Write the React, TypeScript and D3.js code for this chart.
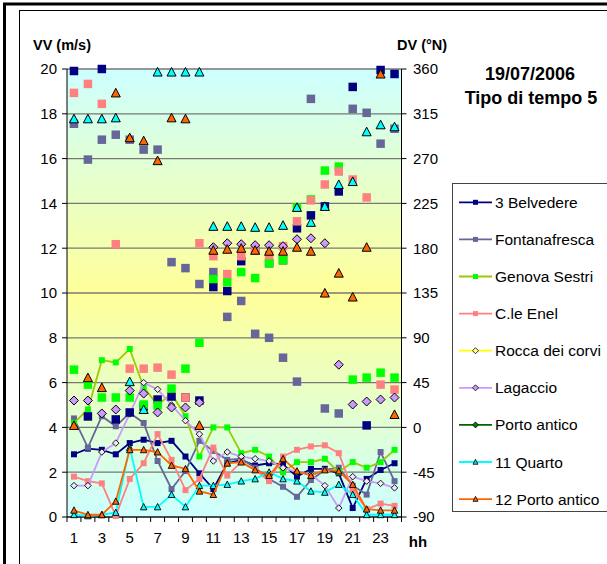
import React from 'react';
import * as d3 from 'd3';

// hours of the day and tick values
const hours = [1, 2, 3, 4, 5, 6, 7, 8, 9, 10, 11, 12, 13, 14, 15, 16, 17, 18, 19, 20, 21, 22, 23, 24];
const hourLabels = [1, 3, 5, 7, 9, 11, 13, 15, 17, 19, 21, 23];
const vvTicks = [0, 2, 4, 6, 8, 10, 12, 14, 16, 18, 20];
const dvTicks = [-90, -45, 0, 45, 90, 135, 180, 225, 270, 315, 360];

const stations = ['3 Belvedere', 'Fontanafresca', 'Genova Sestri', 'C.le Enel', 'Rocca dei corvi', 'Lagaccio', 'Porto antico', '11 Quarto', '12 Porto antico'];

// wind speed (m/s), left axis
const vvBelvedere = [2.8, 3.05, 3.0, 2.8, 3.3, 3.45, 3.3, 3.4, 2.7, 1.95, 1.25, 2.4, 2.55, 2.3, 2.4, 2.35, 1.8, 2.15, 2.15, 1.95, 0.4, 1.7, 2.1, 2.4];
const vvFontanafresca = [4.4, 3.1, 4.5, 4.05, 4.65, 4.2, 2.5, 1.25, 2.05, 3.4, 2.95, 2.55, 2.6, 2.2, 1.7, 1.35, 0.9, 1.65, 2.1, 2.2, 1.4, 1.0, 2.9, 1.6];
const vvGenova = [4.2, 4.8, 7.0, 6.9, 7.5, 5.8, 5.0, 5.5, 4.5, 2.7, 4.0, 4.0, 2.85, 3.0, 2.7, 2.0, 2.45, 2.45, 2.6, 2.0, 2.45, 2.2, 2.45, 3.0];
const vvEnel = [1.8, 1.6, 1.5, 0.05, 1.7, 2.4, 3.7, 2.55, 1.2, 1.7, 3.1, 1.85, 2.45, 2.1, 1.6, 2.7, 3.0, 3.15, 3.2, 2.85, 1.2, 0.35, 0.6, 0.5];
const vvRocca: number[] = [];
const vvLagaccio = [1.4, 1.4, 2.9, 3.3, 4.6, 6.0, 5.7, 5.0, 4.3, 3.7, 2.5, 2.9, 2.7, 2.6, 2.5, 2.2, 2.0, 1.9, 1.4, 0.4, 1.8, 1.6, 1.5, 1.3];
const vvPorto: number[] = [];
const vvQuarto = [0.1, 0.05, 0.1, 0.2, 3.1, 0.45, 0.45, 1.0, 0.45, 1.4, 1.4, 1.45, 1.6, 1.7, 2.0, 1.7, 1.6, 1.15, 1.1, 1.45, 1.0, 0.1, 0.1, 0.1];
const vvPorto12 = [0.3, 0.1, 0.1, 0.7, 3.0, 3.0, 2.9, 2.3, 2.15, 1.15, 1.0, 2.4, 2.45, 2.1, 1.85, 2.6, 2.05, 1.85, 2.1, 2.05, 1.45, 0.35, 0.3, 0.3];

// wind direction (deg N), right axis
const dvBelvedere = [358, 11, 360, 8, 15, 21, 28, 31, 30, 27, 141, 137, 167, 178, 165, 168, 200, 213, 222, 237, 342, 2, 359, 355];
const dvFontanafresca = [305, 269, 289, 294, 289, 279, 279, 166, 160, 144, 156, 111, 127, 94, 90, 70, 46, 330, 19, 14, 320, 316, 285, 300];
const dvGenova = [58, 43, 30, 30, 30, 23, 22, 39, 59, 85, 149, 146, 156, 150, 165, 168, 221, 229, 258, 262, 48, 50, 55, 50];
const dvEnel = [336, 345, 325, 184, 59, 59, 60, 53, 30, 185, 172, 154, 172, 178, 173, 182, 207, 228, 244, 257, 249, 231, 43, 38];
const dvRocca: number[] = [];
const dvLagaccio = [27, 27, 14, 18, 37, 34, 15, 20, 20, 25, 181, 185, 184, 183, 183, 182, 189, 190, 185, 63, 23, 26, 28, 30];
const dvPorto: number[] = [];
const dvQuarto = [310, 310, 310, 311, 46, 18, 357, 357, 357, 357, 202, 202, 202, 201, 201, 203, 221, 206, 222, 244, 247, 297, 304, 302];
const dvPorto12 = [2, 50, 40, 336, 291, 288, 268, 311, 310, 2, 178, 179, 180, 178, 177, 177, 181, 177, 135, 155, 131, 181, 355, 13];

const vvAll = [vvBelvedere, vvFontanafresca, vvGenova, vvEnel, vvRocca, vvLagaccio, vvPorto, vvQuarto, vvPorto12];
const dvAll = [dvBelvedere, dvFontanafresca, dvGenova, dvEnel, dvRocca, dvLagaccio, dvPorto, dvQuarto, dvPorto12];

const FONT = '"Liberation Sans", Arial, Helvetica, sans-serif';

type Shape = 'square' | 'diamond' | 'triangle';
const looks: { line: string; fill: string; small: string; edge: string; shape: Shape }[] = [
  { line: '#000080', fill: '#000080', small: '#000080', edge: 'none', shape: 'square' },
  { line: '#666699', fill: '#666699', small: '#666699', edge: 'none', shape: 'square' },
  { line: '#99cc00', fill: '#00ff00', small: '#00ff00', edge: 'none', shape: 'square' },
  { line: '#ff8080', fill: '#ff8080', small: '#ff8080', edge: 'none', shape: 'square' },
  { line: '#ffff00', fill: '#ffff99', small: '#ffff99', edge: '#000', shape: 'diamond' },
  { line: '#cc99ff', fill: '#cc99ff', small: '#f2e6ff', edge: '#000', shape: 'diamond' },
  { line: '#006600', fill: '#008000', small: '#008000', edge: '#000', shape: 'diamond' },
  { line: '#00ffff', fill: '#00ffff', small: '#00ffff', edge: '#000', shape: 'triangle' },
  { line: '#ff6600', fill: '#ff6600', small: '#ff6600', edge: '#000', shape: 'triangle' },
];

const squareType = { draw(ctx: any, size: number) { const r = Math.sqrt(size) / 2; ctx.rect(-r, -r, 2 * r, 2 * r); } };
const diamondType = { draw(ctx: any, size: number) { const r = Math.sqrt(size) / 2 + 0.5; ctx.moveTo(0, -r); ctx.lineTo(r, 0); ctx.lineTo(0, r); ctx.lineTo(-r, 0); ctx.closePath(); } };
const triangleType = { draw(ctx: any, size: number) { const s = Math.sqrt(size); const h = s * 0.9; ctx.moveTo(0, -h / 2 - 0.5); ctx.lineTo(s / 2, h / 2); ctx.lineTo(-s / 2, h / 2); ctx.closePath(); } };
const symbolPath = (shape: Shape, w: number) =>
  d3.symbol().type(shape === 'square' ? squareType : shape === 'diamond' ? diamondType : triangleType).size(w * w)() as string;

const left = 67, right = 401.5, top = 69, bottom = 517;

export default function App() {
  const x = d3.scaleBand<number>().domain(hours).range([left, right]);
  const cx = (h: number) => (x(h) as number) + x.bandwidth() / 2;
  const yVV = d3.scaleLinear().domain([0, 20]).range([bottom, top]);
  const yDV = d3.scaleLinear().domain([-90, 360]).range([bottom, top]);
  const line = d3.line<number>().x((_, i) => cx(hours[i])).y((v) => yVV(v));

  const bigSize = (s: Shape) => (s === 'square' ? 8.5 : s === 'diamond' ? 8 : 9);
  const smallSize = (s: Shape) => (s === 'square' ? 6 : s === 'diamond' ? 5.5 : 6.5);

  return (
    <svg width={607} height={564} style={{ position: 'absolute', left: 0, top: 0, background: '#fff' }} fontFamily={FONT}>
      <defs>
        <linearGradient id="bg" x1="0" y1="0" x2="0" y2="1">
          <stop offset="0%" stopColor="#ccffff" />
          <stop offset="50%" stopColor="#ffff99" />
          <stop offset="100%" stopColor="#ccffff" />
        </linearGradient>
      </defs>
      {/* frames */}
      <rect x={4.5} y={4} width={620} height={580} fill="none" stroke="#000" strokeWidth={3} />
      <rect x={19.5} y={10.5} width={620} height={580} fill="none" stroke="#000" strokeWidth={1} />

      {/* plot area */}
      <rect x={left} y={top} width={right - left} height={bottom - top} fill="url(#bg)" />
      {vvTicks.map((t) => (
        <line key={'g' + t} x1={left} x2={right} y1={yVV(t)} y2={yVV(t)} stroke="#777" strokeWidth={1.3} />
      ))}
      <line x1={left} x2={left} y1={top} y2={bottom} stroke="#000" />
      <line x1={right} x2={right} y1={top} y2={bottom} stroke="#000" />
      <line x1={left} x2={right} y1={bottom} y2={bottom} stroke="#000" />

      {/* left axis */}
      {vvTicks.map((t) => (
        <g key={'l' + t}>
          <line x1={left - 5} x2={left} y1={yVV(t)} y2={yVV(t)} stroke="#000" />
          <text x={57} y={yVV(t)} dy="0.36em" textAnchor="end" fontSize={15}>{t}</text>
        </g>
      ))}
      {/* right axis */}
      {dvTicks.map((t) => (
        <g key={'r' + t}>
          <line x1={right} x2={right + 5} y1={yDV(t)} y2={yDV(t)} stroke="#000" />
          <text x={413} y={yDV(t)} dy="0.36em" fontSize={15}>{t}</text>
        </g>
      ))}
      {/* category axis */}
      {hours.concat([25]).map((h) => (
        <line key={'t' + h} x1={left + (h - 1) * x.bandwidth()} x2={left + (h - 1) * x.bandwidth()} y1={bottom} y2={bottom + 5} stroke="#000" />
      ))}
      {hourLabels.map((h) => (
        <text key={'x' + h} x={cx(h)} y={543} textAnchor="middle" fontSize={15}>{h}</text>
      ))}
      <text x={418} y={547} textAnchor="middle" fontSize={15} fontWeight="bold">hh</text>
      <text x={33} y={50} fontSize={14.5} fontWeight="bold">VV (m/s)</text>
      <text x={397} y={50} fontSize={14.5} fontWeight="bold">DV (°N)</text>

      {/* title */}
      <text x={530} y={80} textAnchor="middle" fontSize={18} fontWeight="bold">19/07/2006</text>
      <text x={531} y={104} textAnchor="middle" fontSize={18} fontWeight="bold">Tipo di tempo 5</text>

      {/* speed lines */}
      {vvAll.map((vals, i) => (
        <g key={'vv' + i}>
          {vals.length > 0 && <path d={line(vals) as string} fill="none" stroke={looks[i].line} strokeWidth={1.8} />}
          {vals.map((v, j) => (
            <path key={j} d={symbolPath(looks[i].shape, smallSize(looks[i].shape))}
              transform={`translate(${cx(hours[j])},${yVV(v)})`}
              fill={looks[i].small} stroke={looks[i].edge} strokeWidth={0.9} />
          ))}
        </g>
      ))}
      {/* direction markers */}
      {dvAll.map((vals, i) => (
        <g key={'dv' + i}>
          {vals.map((v, j) => (
            <path key={j} d={symbolPath(looks[i].shape, bigSize(looks[i].shape))}
              transform={`translate(${cx(hours[j])},${yDV(v)})`}
              fill={looks[i].fill} stroke={looks[i].edge} strokeWidth={1} />
          ))}
        </g>
      ))}

      {/* legend */}
      <rect x={452.5} y={183.5} width={200} height={328} fill="#fff" stroke="#444" strokeWidth={1} />
      {stations.map((s, i) => {
        const ly = 202.3 + i * 37.1;
        return (
          <g key={'lg' + i}>
            <line x1={459} x2={492} y1={ly} y2={ly} stroke={looks[i].line} strokeWidth={1.8} />
            <path d={symbolPath(looks[i].shape, 5)} transform={`translate(475.5,${ly})`}
              fill={looks[i].shape === 'triangle' && i === 7 ? '#33cccc' : looks[i].fill} stroke={looks[i].edge} strokeWidth={0.8} />
            <text x={495} y={ly} dy="0.36em" fontSize={15.5}>{s}</text>
          </g>
        );
      })}
    </svg>
  );
}
